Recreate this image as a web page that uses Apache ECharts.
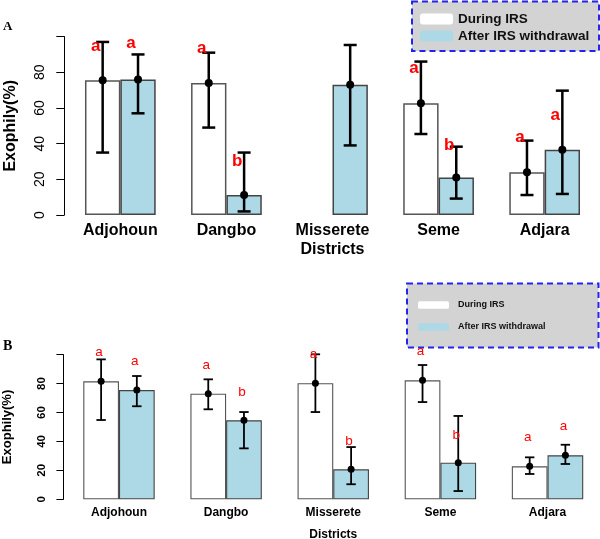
<!DOCTYPE html>
<html>
<head>
<meta charset="utf-8">
<script src="https://cdn.jsdelivr.net/npm/echarts@6/dist/echarts.min.js"></script>
<style>html,body{margin:0;padding:0;background:#fff}#c{width:600px;height:539px}</style>
</head>
<body>
<div id="c"></div>
<script>
const categories = ['Adjohoun', 'Dangbo', 'Misserete', 'Seme', 'Adjara'];
const seriesNames = ['During IRS', 'After IRS withdrawal'];
const yTicks = [0, 20, 40, 60, 80, 100];

// Panel A
const duringA = [75.5, 74, null, 62.6, 23.9];
const duringA_low = [35, 49, null, 45.4, 11.2];
const duringA_high = [97, 91, null, 86, 41.7];
const duringA_letters = ['a', 'a', '', 'a', 'a'];
const duringA_letterY = [94.3, 93.4, null, 82.2, 43.3];
const afterA = [76, 11.2, 73, 21, 36.6];
const afterA_low = [57, 2, 39, 9.2, 11.8];
const afterA_high = [90, 35, 95.3, 38.3, 69.7];
const afterA_letters = ['a', 'b', '', 'b', 'a'];
const afterA_letterY = [96.2, 29.9, null, 39.2, 56];

// Panel B
const duringB = [81.5, 73, 80.2, 82.2, 22.8];
const duringB_low = [54.8, 62.2, 60.3, 67.2, 17.5];
const duringB_high = [96.7, 82.9, 100.2, 92.8, 29];
const duringB_letters = ['a', 'a', 'a', 'a', 'a'];
const duringB_letterY = [101.3, 92.8, 100.2, 102, 42.6];
const afterB = [75.5, 54.6, 20.7, 25.3, 30.4];
const afterB_low = [64.3, 35.2, 10.4, 5.7, 24.4];
const afterB_high = [85.2, 60.3, 36.1, 57.6, 37.7];
const afterB_letters = ['a', 'b', 'b', 'b', 'a'];
const afterB_letterY = [95.6, 73.7, 40.3, 44.4, 50.2];

const FONT = 'Liberation Sans, Arial, sans-serif';

function errSeries(axisIdx, vals, lows, highs, letters, letterY, side, st) {
  const data = [];
  vals.forEach((v, i) => {
    if (v != null) data.push([i, v, lows[i], highs[i], letterY[i] == null ? v : letterY[i], letters[i]]);
  });
  return {
    type: 'custom', xAxisIndex: axisIdx, yAxisIndex: axisIdx, z: 5, clip: false,
    data: data,
    renderItem: function (params, api) {
      const i = api.value(0);
      const band = api.size([1, 0])[0];
      const dx = side * band / 6;
      const top = api.coord([i, api.value(3)]);
      const bot = api.coord([i, api.value(2)]);
      const mid = api.coord([i, api.value(1)]);
      const lab = api.coord([i, api.value(4)]);
      const x = top[0] + dx;
      const ls = { stroke: '#000', lineWidth: st.lw };
      const txt = data[params.dataIndex][5];
      const children = [
        { type: 'line', shape: { x1: x, y1: top[1], x2: x, y2: bot[1] }, style: ls },
        { type: 'line', shape: { x1: x - st.cap, y1: top[1], x2: x + st.cap, y2: top[1] }, style: ls },
        { type: 'line', shape: { x1: x - st.cap, y1: bot[1], x2: x + st.cap, y2: bot[1] }, style: ls },
        { type: 'circle', shape: { cx: x, cy: mid[1], r: st.r }, style: { fill: '#000' } }
      ];
      if (txt) {
        children.push({ type: 'text', style: { text: txt, x: x + st.ldx, y: lab[1], fill: '#ff0000', font: st.lfont, align: 'center', verticalAlign: 'middle' } });
      }
      return { type: 'group', children: children };
    }
  };
}

function barSeries(axisIdx, name, vals, color, border, bw) {
  return {
    type: 'bar', name: name, xAxisIndex: axisIdx, yAxisIndex: axisIdx,
    data: vals, barWidth: '33.33%', barGap: '0%',
    itemStyle: { color: color, borderColor: border, borderWidth: bw },
    emphasis: { disabled: true }
  };
}

const stA = { lw: 2.5, cap: 6.5, r: 4, ldx: -7, lfont: 'bold 17px ' + FONT };
const stB = { lw: 1.8, cap: 4.7, r: 3.5, ldx: -2, lfont: '13.5px ' + FONT };

const chart = echarts.init(document.getElementById('c'), null, { renderer: 'canvas' });
const option = {
  animation: false,
  backgroundColor: '#fff',
  grid: [
    { left: 67.3, width: 530.4, top: 36.6, height: 178.4, containLabel: false, outerBoundsMode: 'none' },
    { left: 65.4, width: 535.7, top: 354.6, height: 144.7, containLabel: false, outerBoundsMode: 'none' }
  ],
  xAxis: [
    { gridIndex: 0, type: 'category', data: categories, axisLine: { show: false }, axisTick: { show: false },
      axisLabel: { fontFamily: FONT, fontWeight: 'bold', fontSize: 16, color: '#000', margin: 8 },
      name: 'Districts', nameLocation: 'middle', nameGap: 27,
      nameTextStyle: { fontFamily: FONT, fontWeight: 'bold', fontSize: 16, color: '#000' } },
    { gridIndex: 1, type: 'category', data: categories, axisLine: { show: false }, axisTick: { show: false },
      axisLabel: { fontFamily: FONT, fontWeight: 'bold', fontSize: 12, color: '#000', margin: 7 },
      name: 'Districts', nameLocation: 'middle', nameGap: 29,
      nameTextStyle: { fontFamily: FONT, fontWeight: 'bold', fontSize: 12, color: '#000' } }
  ],
  yAxis: [
    { gridIndex: 0, type: 'value', min: yTicks[0], max: yTicks[yTicks.length - 1], interval: 20, offset: 3,
      splitLine: { show: false },
      axisLine: { show: true, lineStyle: { color: '#000', width: 1 } },
      axisTick: { show: true, length: 8, lineStyle: { color: '#000' } },
      axisLabel: { rotate: 90, margin: 17, fontFamily: FONT, fontSize: 14, color: '#000',
        formatter: v => (v === 100 ? '' : String(v)) },
      name: 'Exophily(%)', nameLocation: 'middle', nameGap: 46, nameRotate: 90,
      nameTextStyle: { fontFamily: FONT, fontWeight: 'bold', fontSize: 16, color: '#000' } },
    { gridIndex: 1, type: 'value', min: yTicks[0], max: yTicks[yTicks.length - 1], interval: 20, offset: 2,
      splitLine: { show: false },
      axisLine: { show: true, lineStyle: { color: '#000', width: 1 } },
      axisTick: { show: true, length: 7, lineStyle: { color: '#000' } },
      axisLabel: { rotate: 90, margin: 16, fontFamily: FONT, fontWeight: 'bold', fontSize: 11.5, color: '#000',
        formatter: v => (v === 100 ? '' : String(v)) },
      name: 'Exophily(%)', nameLocation: 'middle', nameGap: 49, nameRotate: 90,
      nameTextStyle: { fontFamily: FONT, fontWeight: 'bold', fontSize: 13, color: '#000' } }
  ],
  legend: [
    { data: seriesNames, orient: 'vertical', left: 420, top: 12, padding: 0, icon: 'roundRect',
      itemWidth: 33, itemHeight: 11, itemGap: 3, z: 10, selectedMode: false,
      itemStyle: { borderWidth: 0 },
      textStyle: { fontFamily: FONT, fontWeight: 'bold', fontSize: 13.5, lineHeight: 14, color: '#111' } },
    { data: seriesNames, orient: 'vertical', left: 418, top: 300, padding: 0, icon: 'roundRect',
      itemWidth: 31, itemHeight: 7.5, itemGap: 12, z: 10, selectedMode: false,
      itemStyle: { borderWidth: 0 },
      textStyle: { fontFamily: FONT, fontWeight: 'bold', fontSize: 9, lineHeight: 10, color: '#111', padding: [0, 0, 0, 4] } }
  ],
  graphic: [
    { type: 'rect', z: 1, shape: { x: 412, y: 1.5, width: 187, height: 49.5 },
      style: { fill: '#d3d3d3', stroke: '#2424f0', lineWidth: 2, lineDash: [6, 4] } },
    { type: 'rect', z: 1, shape: { x: 407, y: 283.5, width: 191.5, height: 64 },
      style: { fill: '#d3d3d3', stroke: '#2424f0', lineWidth: 2, lineDash: [6, 4] } },
    { type: 'text', left: 3, top: 20, style: { text: 'A', font: 'bold 13px Liberation Serif, serif', fill: '#000' } },
    { type: 'text', left: 3, top: 339, style: { text: 'B', font: 'bold 14px Liberation Serif, serif', fill: '#000' } }
  ],
  series: [
    barSeries(0, seriesNames[0], duringA, '#ffffff', '#555', 1.5),
    barSeries(0, seriesNames[1], afterA, '#add8e6', '#444', 1.5),
    barSeries(1, seriesNames[0], duringB, '#ffffff', '#555', 1.1),
    barSeries(1, seriesNames[1], afterB, '#add8e6', '#444', 1.1),
    errSeries(0, duringA, duringA_low, duringA_high, duringA_letters, duringA_letterY, -1, stA),
    errSeries(0, afterA, afterA_low, afterA_high, afterA_letters, afterA_letterY, 1, stA),
    errSeries(1, duringB, duringB_low, duringB_high, duringB_letters, duringB_letterY, -1, stB),
    errSeries(1, afterB, afterB_low, afterB_high, afterB_letters, afterB_letterY, 1, stB)
  ]
};
chart.setOption(option);
</script>
</body>
</html>
